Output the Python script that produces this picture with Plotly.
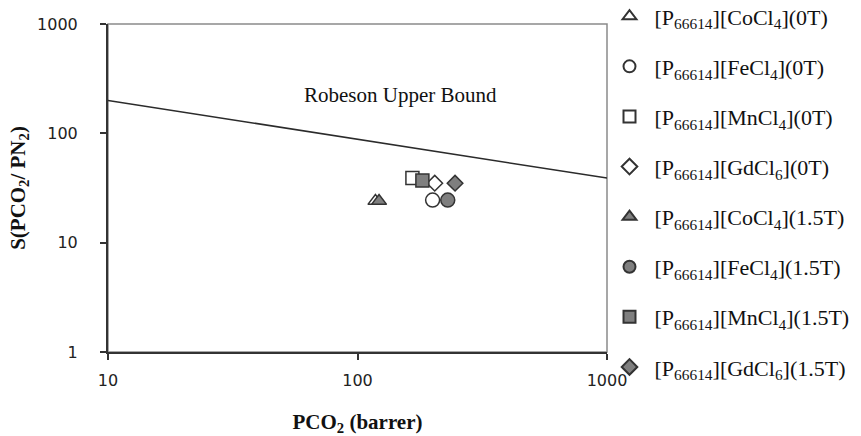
import plotly.graph_objects as go

# Data
robeson_x = [10, 1000]
robeson_y = [200, 39]

series_names = [
    "[P<sub>66614</sub>][CoCl<sub>4</sub>](0T)",
    "[P<sub>66614</sub>][FeCl<sub>4</sub>](0T)",
    "[P<sub>66614</sub>][MnCl<sub>4</sub>](0T)",
    "[P<sub>66614</sub>][GdCl<sub>6</sub>](0T)",
    "[P<sub>66614</sub>][CoCl<sub>4</sub>](1.5T)",
    "[P<sub>66614</sub>][FeCl<sub>4</sub>](1.5T)",
    "[P<sub>66614</sub>][MnCl<sub>4</sub>](1.5T)",
    "[P<sub>66614</sub>][GdCl<sub>6</sub>](1.5T)",
]
pco2 = [118, 200, 166, 204, 122, 230, 182, 246]
selectivity = [24, 24.5, 39, 35, 24, 24.5, 37, 35]

symbols = ["triangle-up", "circle", "square", "diamond",
           "triangle-up", "circle", "square", "diamond"]
sizes = [13, 14, 13, 12, 13, 14, 13, 12]
fills = ["white"] * 4 + ["#7f7f7f"] * 4

fig = go.Figure()

fig.add_trace(go.Scatter(
    x=robeson_x, y=robeson_y, mode="lines",
    line=dict(color="#2b2b2b", width=1.5),
    showlegend=False, hoverinfo="skip"))

for i, name in enumerate(series_names):
    fig.add_trace(go.Scatter(
        x=[pco2[i]], y=[selectivity[i]], mode="markers", name=name,
        legendgroup=f"g{i}",
        marker=dict(symbol=symbols[i], size=sizes[i], color=fills[i],
                    line=dict(color="#333333", width=1.5))))

fig.add_annotation(x=2.173, y=2.35, xref="x", yref="y",
                   text="Robeson Upper Bound", showarrow=False,
                   font=dict(family="Liberation Serif", size=21, color="#111"))

fig.add_shape(type="rect", xref="x domain", yref="y domain",
              x0=0, x1=1, y0=0, y1=1, layer="below",
              line=dict(color="#8a8a8a", width=1.5))

fig.update_xaxes(
    type="log", range=[1, 3],
    tickvals=[10, 100, 1000], ticktext=["10", "100", "1000"],
    showgrid=False, zeroline=False,
    showline=True, linecolor="#333", linewidth=2,
    ticks="outside", ticklen=6, tickwidth=2, tickcolor="#333",
    ticklabelstandoff=7,
    tickfont=dict(family="DejaVu Sans", size=16, color="#222"),
    title=dict(text="<b>PCO<sub>2</sub> (barrer)</b>",
               font=dict(family="Liberation Serif", size=21, color="#111"),
               standoff=25))

fig.update_yaxes(
    type="log", range=[0, 3],
    tickvals=[1, 10, 100, 1000], ticktext=["1", "10", "100", "1000"],
    showgrid=False, zeroline=False,
    showline=True, linecolor="#333", linewidth=2,
    ticks="outside", ticklen=6, tickwidth=2, tickcolor="#333",
    ticklabelstandoff=19,
    tickfont=dict(family="DejaVu Sans", size=16, color="#222"),
    title=dict(text="<b>S(PCO<sub>2</sub>/ PN<sub>2</sub>)</b>",
               font=dict(family="Liberation Serif", size=21, color="#111"),
               standoff=6))

fig.update_layout(
    width=861, height=436,
    margin=dict(l=108, r=254, t=24, b=84, autoexpand=False),
    paper_bgcolor="white", plot_bgcolor="white",
    showlegend=True,
    legend=dict(x=0.995, xanchor="left", y=1.087, yanchor="top",
                font=dict(family="Liberation Serif", size=22, color="#111"),
                tracegroupgap=18.5, itemsizing="constant", itemwidth=40,
                maxheight=1.0,
                bgcolor="rgba(0,0,0,0)"),
)

fig.write_html("out.html")
